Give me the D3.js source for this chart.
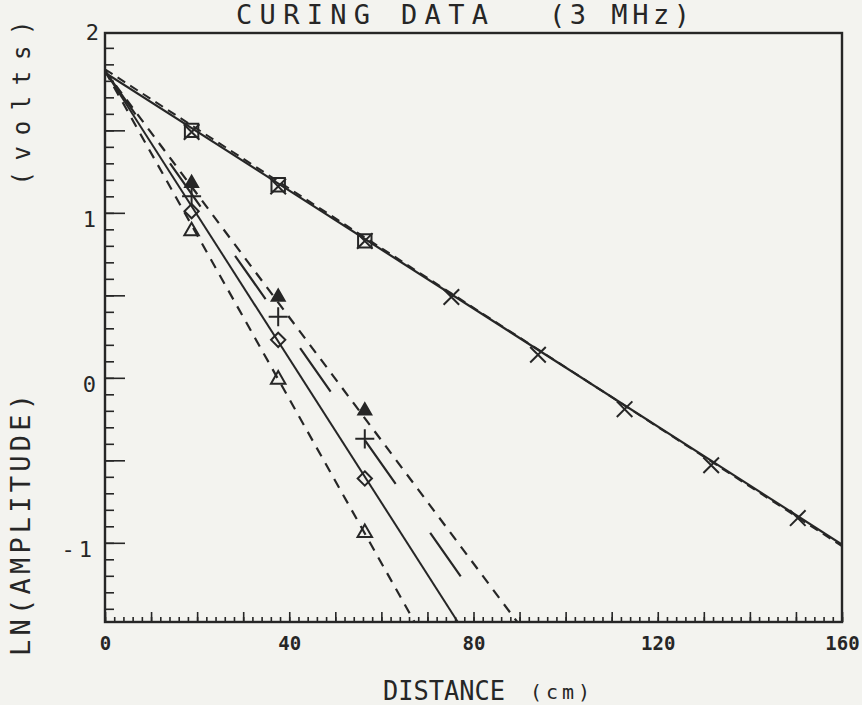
<!DOCTYPE html>
<html>
<head>
<meta charset="utf-8">
<script src="https://cdn.jsdelivr.net/npm/d3@7"></script>
<style>
  body { margin: 0; background: #f3f3ef; }
  svg { display: block; }
  text { font-family: "DejaVu Sans Mono", monospace; fill: #262626; }
</style>
</head>
<body>
<svg id="chart" width="862" height="705"></svg>
<script>
// distances of the measurement points (cm)
var distances = [18.8, 37.6, 56.4, 75.2, 94.0, 112.8, 131.6, 150.4];

// ln(amplitude) per series
var crossVals = [1.49, 1.16, 0.83, 0.49, 0.14, -0.19, -0.53, -0.85];
var squareVals = [1.50, 1.17, 0.83];
var solidTriVals = [1.18, 0.49, -0.20];
var plusVals = [1.10, 0.37, -0.37];
var diamondVals = [1.01, 0.23, -0.61];
var openTriVals = [0.89, -0.01, -0.94];

// fitted lines, [distance, ln amp] at both ends
var crossFit = [[0, 1.85], [160, -1.01]];
var squareFit = [[0, 1.87], [160, -1.02]];
var solidTriFit = [[0, 1.86], [89.5, -1.48]];
var plusFit = [[0, 1.86], [84.2, -1.48]];
var diamondFit = [[0, 1.86], [76.6, -1.48]];
var openTriFit = [[0, 1.86], [67.2, -1.48]];

var xLabels = [0, 40, 80, 120, 160];
var yLabels = [2, 1, 0, -1];

var svg = d3.select("#chart");
var ink = "#262626";
var yTop = 2.09, yBottom = -1.48;

var x = d3.scaleLinear().domain([0, 160]).range([105, 842]);
var y = d3.scaleLinear().domain([yBottom, yTop]).range([622, 33]);

var line = d3.line()
  .x(function(d) { return x(d[0]); })
  .y(function(d) { return y(d[1]); });

// ticks, pointing into the frame
function tickAxis(axis, tr) {
  var g = svg.append("g").attr("transform", tr).call(axis);
  g.select(".domain").remove();
  g.selectAll("line").attr("stroke", ink).attr("stroke-width", 1.6);
  return g;
}

tickAxis(d3.axisBottom(x).tickValues(d3.range(0, 161, 2)).tickSize(-5).tickFormat(""), "translate(0,622)");
tickAxis(d3.axisBottom(x).tickValues(d3.range(0, 161, 10)).tickSize(-10).tickFormat(""), "translate(0,622)");
tickAxis(d3.axisLeft(y).tickValues(d3.range(-14, 21, 1).map(function(v) { return v / 10; })).tickSize(-9).tickFormat(""), "translate(105,0)");
tickAxis(d3.axisLeft(y).tickValues([-1, -0.5, 0, 0.5, 1, 1.5]).tickSize(-20).tickFormat(""), "translate(105,0)");

var xl = tickAxis(d3.axisBottom(x).tickValues(xLabels).tickSize(0).tickPadding(15), "translate(0,622)");
xl.selectAll("text").style("font-size", "19px").style("font-weight", "bold")
  .style("font-family", "'DejaVu Sans Mono', monospace").attr("fill", ink);

var yl = tickAxis(d3.axisLeft(y).tickValues(yLabels).tickSize(0).tickPadding(9)
  .tickFormat(function(d) { return d < 0 ? "-" + (-d) : d; }), "translate(105,0)");
yl.selectAll("text").style("font-size", "22px")
  .style("font-family", "'DejaVu Sans Mono', monospace").attr("fill", ink)
  .attr("letter-spacing", function(d) { return d < 0 ? 4 : 0; })
  .attr("dx", function(d) { return d === 2 ? 3 : 0; })
  .attr("dy", function(d) { return d === 2 ? "-0.4em" : "0.6em"; });

// frame
svg.append("rect")
  .attr("x", x(0)).attr("y", y(yTop))
  .attr("width", x(160) - x(0)).attr("height", y(yBottom) - y(yTop))
  .attr("fill", "none").attr("stroke", ink).attr("stroke-width", 2.4);

// clip fits to the frame
svg.append("clipPath").attr("id", "frame").append("rect")
  .attr("x", x(0)).attr("y", y(yTop))
  .attr("width", x(160) - x(0)).attr("height", y(yBottom) - y(yTop));

var fits = svg.append("g").attr("clip-path", "url(#frame)")
  .attr("fill", "none").attr("stroke", ink);

fits.append("path").attr("d", line(crossFit)).attr("stroke-width", 2.2);
fits.append("path").attr("d", line(squareFit)).attr("stroke-width", 2).attr("stroke-dasharray", "9,6");
fits.append("path").attr("d", line(solidTriFit)).attr("stroke-width", 2.2).attr("stroke-dasharray", "10,8");
fits.append("path").attr("d", line(plusFit)).attr("stroke-width", 2.2).attr("stroke-dasharray", "53,60");
fits.append("path").attr("d", line(diamondFit)).attr("stroke-width", 2);
fits.append("path").attr("d", line(openTriFit)).attr("stroke-width", 2.2).attr("stroke-dasharray", "10,8");

// markers
function pts(vals) {
  return vals.map(function(v, i) { return [distances[i], v]; });
}

function markers(vals, type, size, fill) {
  svg.append("g").selectAll("path")
    .data(pts(vals))
    .enter().append("path")
    .attr("transform", function(d) { return "translate(" + x(d[0]) + "," + y(d[1]) + ")"; })
    .attr("d", d3.symbol().type(type).size(size))
    .attr("fill", fill)
    .attr("stroke", ink)
    .attr("stroke-width", 2);
}

markers(squareVals, d3.symbolSquare, 180, "none");
markers(crossVals, d3.symbolX, 160, "none");
markers(solidTriVals, d3.symbolTriangle2, 120, ink);
markers(plusVals, d3.symbolPlus, 120, "none");
markers(diamondVals, d3.symbolDiamond2, 130, "none");
markers(openTriVals, d3.symbolTriangle2, 150, "none");

// titles
svg.append("text").attr("x", 236).attr("y", 24).attr("textLength", 252)
  .attr("lengthAdjust", "spacing").style("font-size", "27px").text("CURING DATA");
svg.append("text").attr("x", 549).attr("y", 24).attr("textLength", 141)
  .attr("lengthAdjust", "spacing").style("font-size", "27px").text("(3 MHz)");

svg.append("text").attr("x", 383).attr("y", 700).attr("textLength", 122)
  .attr("lengthAdjust", "spacingAndGlyphs").style("font-size", "27px").text("DISTANCE");
svg.append("text").attr("x", 530).attr("y", 699).attr("textLength", 60)
  .attr("lengthAdjust", "spacing").style("font-size", "20px").text("(cm)");

svg.append("text").attr("transform", "translate(30,525) rotate(-90)")
  .attr("text-anchor", "middle").attr("textLength", 262).attr("lengthAdjust", "spacing")
  .style("font-size", "27px").text("LN(AMPLITUDE)");
svg.append("text").attr("transform", "translate(30,103) rotate(-90)")
  .attr("text-anchor", "middle").attr("textLength", 165).attr("lengthAdjust", "spacing")
  .style("font-size", "24px").text("(volts)");
</script>
</body>
</html>
